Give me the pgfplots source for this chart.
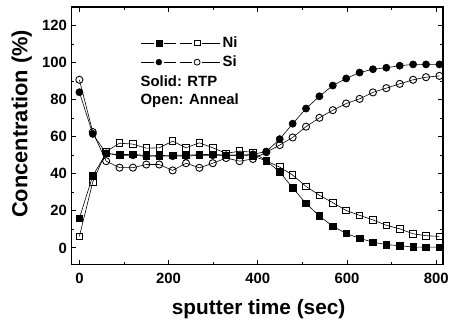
\documentclass[border=0pt]{standalone}
\usepackage{fontspec}
\setmainfont{Liberation Sans}
\usepackage{pgfplots}
\pgfplotsset{compat=1.18}
\usepackage{pgfplotstable}
\pgfplotstableread{
x    niR   niA   siR   siA
0    16.0  6.2   84.0  90.7
30   39.0  35.6  61.5  62.5
60   51.0  52.0  51.0  46.8
90   50.3  56.5  50.0  43.3
120  50.5  56.0  50.0  43.3
150  49.8  53.8  49.5  45.0
179  49.8  54.0  49.5  45.0
209  50.0  57.6  49.5  41.8
239  50.0  54.0  49.5  45.7
269  50.3  56.7  50.0  43.2
299  50.5  54.0  50.0  45.7
329  50.0  51.0  50.0  48.5
359  50.0  52.2  50.0  46.8
389  49.5  51.6  50.5  48.0
419  47.0  47.0  52.0  51.6
449  41.0  43.6  58.7  55.5
478  32.4  39.3  67.0  59.6
508  24.0  33.2  75.2  65.4
538  17.2  28.4  81.8  70.2
568  11.7  24.4  87.6  74.3
598  7.8   20.2  91.4  77.9
628  5.2   17.6  94.6  80.4
658  3.1   15.1  96.4  83.9
688  1.8   12.2  97.2  86.2
718  1.2   10.3  98.3  88.5
748  0.5   7.6   99.0  90.7
777  0.4   6.6   99.0  92.1
807  0.4   6.2   99.0  92.8
}\data
\begin{document}
\begin{tikzpicture}
\begin{axis}[
  name=main,
  scale only axis,
  width=375pt, height=260pt,
  xmin=-18, xmax=815, ymin=-9, ymax=130,
  xtick={0,200,400,600,800},
  minor xtick={100,300,500,700},
  ytick={0,20,40,60,80,100,120},
  minor ytick={-10,10,30,50,70,90,110,130},
  tick align=inside,
  major tick length=5pt, minor tick length=3pt,
  axis line style={line width=1.4pt},
  every tick/.style={line width=1pt,black},
  /pgf/number format/assume math mode=true,
  ticklabel style={font=\fontsize{15}{17}\selectfont\bfseries},
  yticklabel style={xshift=-1pt},
  xticklabel style={yshift=-5pt},
  xlabel={sputter time (sec)},
  ylabel={Concentration (\%)},
  xlabel style={font=\fontsize{21}{24}\selectfont\bfseries, at={(axis description cs:0.504,-0.172)}, anchor=center},
  ylabel style={font=\fontsize{22}{25}\selectfont\bfseries, at={(axis description cs:-0.1333,0.546)}, anchor=center},
  legend style={at={(rel axis cs:0.186,0.823)}, anchor=west, draw=none, fill=none,
    inner sep=0pt, row sep=3pt,
    font=\fontsize{15}{17}\selectfont\bfseries},
  legend cell align=left,
]
\addplot[black, line width=0.6pt, mark=o, mark size=3.6pt, mark options={fill=white, line width=0.9pt}, forget plot] table[x=x,y=siA] {\data};
\addplot[black, line width=0.6pt, mark=square, mark size=3.3pt, mark options={fill=white, line width=0.9pt}, forget plot] table[x=x,y=niA] {\data};
\addplot[black, line width=0.6pt, mark=*, mark size=3.6pt, mark options={fill=black}, forget plot] table[x=x,y=siR] {\data};
\addplot[black, line width=0.6pt, mark=square*, mark size=3.3pt, mark options={fill=black}, forget plot] table[x=x,y=niR] {\data};
\addlegendimage{legend image code/.code={
  \draw[black,line width=0.7pt] (0pt,0pt)--(13pt,0pt);
  \path plot[mark=square*, mark size=2.9pt, mark options={fill=black}] coordinates {(18pt,0pt)};
  \draw[black,line width=0.7pt] (23pt,0pt)--(35pt,0pt);
  \draw[black,line width=0.7pt] (39pt,0pt)--(51pt,0pt);
  \path plot[mark=square, mark size=2.9pt, mark options={fill=white,line width=0.8pt}] coordinates {(56.6pt,0pt)};
  \draw[black,line width=0.7pt] (62pt,0pt)--(80pt,0pt);
}}
\addlegendentry{Ni}
\addlegendimage{legend image code/.code={
  \draw[black,line width=0.7pt] (0pt,0pt)--(13pt,0pt);
  \path plot[mark=*, mark size=3pt, mark options={fill=black}] coordinates {(18pt,0pt)};
  \draw[black,line width=0.7pt] (23pt,0pt)--(35pt,0pt);
  \draw[black,line width=0.7pt] (39pt,0pt)--(51pt,0pt);
  \path plot[mark=o, mark size=3pt, mark options={fill=white,line width=0.8pt}] coordinates {(56.6pt,0pt)};
  \draw[black,line width=0.7pt] (62pt,0pt)--(80pt,0pt);
}}
\addlegendentry{Si}
\node[anchor=west, inner sep=0pt, font=\fontsize{15}{17}\selectfont\bfseries] at (rel axis cs:0.186,0.713) {Solid: RTP};
\node[anchor=west, inner sep=0pt, font=\fontsize{15}{17}\selectfont\bfseries] at (rel axis cs:0.186,0.636) {Open: Anneal};
\end{axis}
\useasboundingbox ([xshift=-72pt,yshift=-53pt]main.south west) rectangle ([xshift=5pt,yshift=7pt]main.north east);
\end{tikzpicture}
\end{document}
